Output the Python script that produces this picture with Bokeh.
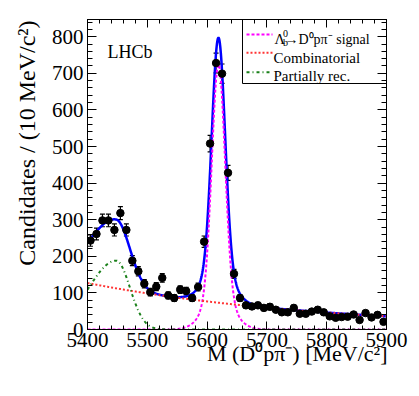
import numpy as np
from bokeh.plotting import figure
from bokeh.models import (Range1d, LinearAxis, SingleIntervalTicker, Label, Whisker,
                          ColumnDataSource, CustomJSTickFormatter, TeeHead)
from bokeh.embed import file_html
from bokeh.resources import INLINE

# ---------------- data ----------------
mass = [5405, 5415, 5425, 5435, 5445, 5455, 5465, 5475, 5485, 5495,
        5505, 5515, 5525, 5535, 5545, 5555, 5565, 5575, 5585, 5595,
        5605, 5615, 5625, 5635, 5645, 5655, 5665, 5675, 5685, 5695,
        5705, 5715, 5725, 5735, 5745, 5755, 5765, 5775, 5785, 5795,
        5805, 5815, 5825, 5835, 5845, 5855, 5865, 5875, 5885, 5895]
counts = [243, 261, 298, 298, 272, 318, 272, 188, 159, 125,
          102, 117, 141, 93, 86, 109, 105, 86, 116, 240,
          508, 728, 699, 428, 152, 86, 66, 63, 66, 59,
          62, 54, 47, 47, 59, 43, 43, 49, 54, 47,
          36, 32, 34, 35, 41, 26, 45, 33, 40, 21]

# fit components (parameters)
signal_par = [724.0, 5619.0, 11.0, 24.0, 0.12]     # amplitude, mean, sigma core, sigma tail, tail fraction
comb_par = [127.0, 0.00252]                         # value at 5400, exponential slope
partial_par = [188.0, 5448.0, 46.0, 23.0]           # amplitude, peak, sigma left, sigma right

x_lo, x_hi = 5400, 5900
y_lo, y_hi = 0, 847

xticks_major = 100
yticks_major = 100

FONT = "Liberation Serif"

# ---------------- models ----------------
m = np.linspace(x_lo, x_hi, 1001)
A, mu, s1, s2, f2 = signal_par
d = m - mu
sig = A * ((1 - f2) * np.exp(-0.5 * (d / s1) ** 2) + f2 * np.exp(-0.5 * (d / s2) ** 2))
comb = comb_par[0] * np.exp(-comb_par[1] * (m - x_lo))
pa, pm, psl, psr = partial_par
part = pa * np.where(m < pm, np.exp(-0.5 * ((m - pm) / psl) ** 2), np.exp(-0.5 * ((m - pm) / psr) ** 2))
total = sig + comb + part

# ---------------- figure ----------------
W, H = 412, 390
FL, FR, FT, FB = 87, 386, 19, 329   # frame edges in canvas pixels


def dx(px):
    return x_lo + (px - FL) * (x_hi - x_lo) / (FR - FL)


def dy(py):
    return y_lo + (FB - py) * (y_hi - y_lo) / (FB - FT)


p = figure(width=W, height=H, x_range=Range1d(x_lo, x_hi), y_range=Range1d(y_lo, y_hi),
           output_backend="svg", toolbar_location=None,
           min_border_left=FL, min_border_right=W - FR, min_border_top=FT,
           min_border_bottom=H - FB)
p.xgrid.visible = False
p.ygrid.visible = False
p.outline_line_color = "black"
p.outline_line_width = 1
p.background_fill_color = "white"
p.border_fill_color = "white"

xt = SingleIntervalTicker(interval=xticks_major, num_minor_ticks=5)
yt = SingleIntervalTicker(interval=yticks_major, num_minor_ticks=5)


def style_axis(ax, ticker, tin, tmin, show):
    ax.ticker = ticker
    ax.major_tick_in = tin
    ax.major_tick_out = 0
    ax.minor_tick_in = tmin
    ax.minor_tick_out = 0
    ax.axis_line_color = "black"
    ax.major_tick_line_color = "black"
    ax.minor_tick_line_color = "black"
    ax.major_label_text_font = FONT
    ax.major_label_text_font_size = "21px"
    ax.major_label_text_color = "black"
    if not show:
        ax.formatter = CustomJSTickFormatter(code="return ''")
        ax.major_label_standoff = 0


style_axis(p.xaxis[0], xt, 8, 4, True)
style_axis(p.yaxis[0], yt, 9, 5, True)
p.xaxis[0].major_label_standoff = 3
p.yaxis[0].major_label_standoff = 4

top = LinearAxis()
style_axis(top, xt, 8, 4, False)
p.add_layout(top, "above")
right = LinearAxis()
style_axis(right, yt, 9, 5, False)
p.add_layout(right, "right")

# ---------------- curves ----------------
p.line(m, total, line_color="#0000ff", line_width=2.5)
p.line(m, sig, line_color="#ff00ff", line_width=2, line_dash="3 2")
p.line(m, comb, line_color="#ff3333", line_width=2, line_dash="2 2")
p.line(m, part, line_color="#1a801a", line_width=2, line_dash="3 3 1 3")

# ---------------- data points ----------------
err = np.sqrt(np.array(counts, dtype=float))
src = ColumnDataSource(dict(x=mass, y=counts, lo=np.array(counts) - err, hi=np.array(counts) + err))
p.add_layout(Whisker(source=src, base="x", lower="lo", upper="hi", line_color="black", line_width=1.2,
                     lower_head=TeeHead(size=5, line_color="black", line_width=1.2),
                     upper_head=TeeHead(size=5, line_color="black", line_width=1.2)))
p.scatter("x", "y", source=src, size=7.5, color="black")

# ---------------- legend ----------------
p.quad(left=[dx(242)], right=[dx(386)], top=[dy(FT)], bottom=[dy(83)], fill_color="white",
       line_color="black", line_width=1)
leg_rows = [(34, "#ff00ff", "3 2"), (52.3, "#ff3333", "2 2"), (71.7, "#1a801a", "3 3 1 3")]
for yy, col, dash in leg_rows:
    p.line([dx(246), dx(272)], [dy(yy), dy(yy)], line_color=col, line_width=2, line_dash=dash)


def mklab(text, px, py, size, align="left", italic=False, angle=0.0):
    return Label(x=dx(px), y=dy(py), text=text, text_font=FONT, text_font_size=f"{size}px",
                 text_align=align, text_baseline="alphabetic", text_color="black",
                 text_font_style="italic" if italic else "normal", angle=angle)


def lab(*args, **kw):
    p.add_layout(mklab(*args, **kw))


lab("Λ", 274, 38.5, 14.5)
lab("0", 282.5, 33, 10)
lab("b", 282.5, 41.5, 10)
lab("→", 284, 38.5, 14)
lab("D⁰pπ⁻ signal", 298, 38.5, 14)
lab("Combinatorial", 273, 57.3, 15)
lab("Partially rec.", 273, 75.5, 15)

lab("LHCb", 107, 51, 18)

# axis titles: placed in the side panels so they are not clipped to the frame
p.add_layout(mklab("M (D⁰pπ⁻) [MeV/c²]", 387, 353, 22, align="right"), "below")
p.add_layout(mklab("Candidates / (10 MeV/c²)", 26, 20, 24, align="right", angle=np.pi / 2), "left")

open("out.html", "w").write(file_html(p, INLINE))
